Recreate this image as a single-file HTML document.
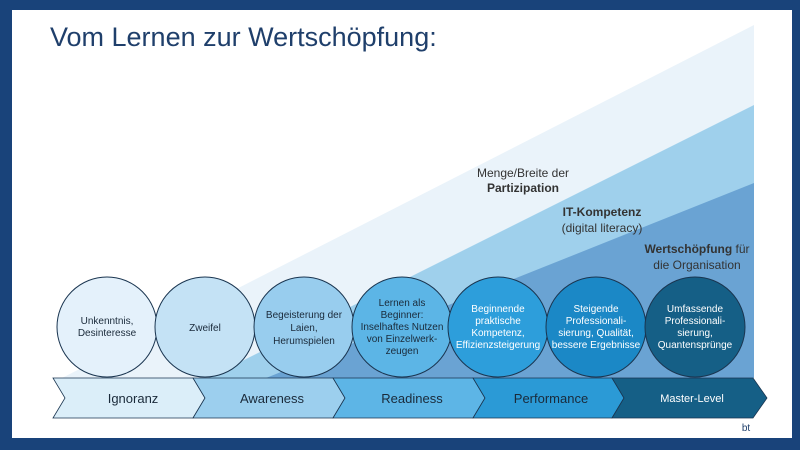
<!DOCTYPE html>
<html><head><meta charset="utf-8"><style>
body{margin:0;width:800px;height:450px;overflow:hidden;background:#19437a}
svg{display:block}
text{font-family:"Liberation Sans",sans-serif}
</style></head><body>
<svg width="800" height="450" viewBox="0 0 800 450">
<rect x="0" y="0" width="800" height="450" fill="#19437a"/>
<rect x="12" y="10" width="780" height="428" fill="#ffffff"/>
<polygon points="754,25 754,378 62,378" fill="#eaf3fa"/>
<polygon points="754,105 754,378 208,378" fill="#9fd0ec"/>
<polygon points="754,183 754,378 266,378" fill="#6aa3d3"/>
<text x="50" y="46" font-size="27" fill="#1f3f6b">Vom Lernen zur Wertschöpfung:</text>
<g font-size="12" fill="#333" text-anchor="middle">
<text x="523" y="177">Menge/Breite der</text>
<text x="523" y="192" font-weight="bold">Partizipation</text>
<text x="602" y="216" font-weight="bold">IT-Kompetenz</text>
<text x="602" y="232">(digital literacy)</text>
<text x="697" y="253"><tspan font-weight="bold">Wertschöpfung</tspan> für</text>
<text x="697" y="269">die Organisation</text>
</g>
<g stroke="#1a3550" stroke-width="1">
<circle cx="107" cy="327" r="50" fill="#e4f1fb"/>
<circle cx="205" cy="327" r="50" fill="#c4e2f5"/>
<circle cx="304" cy="327" r="50" fill="#98cdee"/>
<circle cx="402" cy="327" r="50" fill="#5cb5e6"/>
<circle cx="498" cy="327" r="50" fill="#2d9edb"/>
<circle cx="596" cy="327" r="50" fill="#1b88c6"/>
<circle cx="695" cy="327" r="50" fill="#155f86"/>
</g>
<g font-size="10" text-anchor="middle" fill="#1a2a3a">
<text x="107" y="324">Unkenntnis,</text><text x="107" y="336">Desinteresse</text>
<text x="205" y="331">Zweifel</text>
<text x="304" y="318">Begeisterung der</text><text x="304" y="331">Laien,</text><text x="304" y="344">Herumspielen</text>
<text x="402" y="306">Lernen als</text><text x="402" y="318">Beginner:</text><text x="402" y="330">Inselhaftes Nutzen</text><text x="402" y="342">von Einzelwerk-</text><text x="402" y="354">zeugen</text>
</g>
<g font-size="10" text-anchor="middle" fill="#ffffff">
<text x="498" y="312">Beginnende</text><text x="498" y="324">praktische</text><text x="498" y="336">Kompetenz,</text><text x="498" y="348">Effizienzsteigerung</text>
<text x="596" y="312">Steigende</text><text x="596" y="324">Professionali-</text><text x="596" y="336">sierung, Qualität,</text><text x="596" y="348">bessere Ergebnisse</text>
<text x="695" y="312">Umfassende</text><text x="695" y="324">Professionali-</text><text x="695" y="336">sierung,</text><text x="695" y="348">Quantensprünge</text>
</g>
<g stroke="#1a3550" stroke-width="0.8">
<polygon points="53,378 193,378 205,398 193,418 53,418 65,398" fill="#dbeef9"/>
<polygon points="193,378 333,378 345,398 333,418 193,418 205,398" fill="#9ccfee"/>
<polygon points="333,378 473,378 485,398 473,418 333,418 345,398" fill="#5db5e6"/>
<polygon points="473,378 612,378 624,398 612,418 473,418 485,398" fill="#2b9ad6"/>
<polygon points="612,378 753,378 767,398 753,418 612,418 624,398" fill="#155f86"/>
</g>
<g font-size="13" text-anchor="middle" fill="#1a2a3a">
<text x="133" y="403">Ignoranz</text>
<text x="272" y="403">Awareness</text>
<text x="412" y="403">Readiness</text>
<text x="551" y="403">Performance</text>
<text x="692" y="402" font-size="11" fill="#fff">Master-Level</text>
</g>
<text x="746" y="431" font-size="10" fill="#1f3f6b" text-anchor="middle">bt</text>
</svg>
</body></html>
